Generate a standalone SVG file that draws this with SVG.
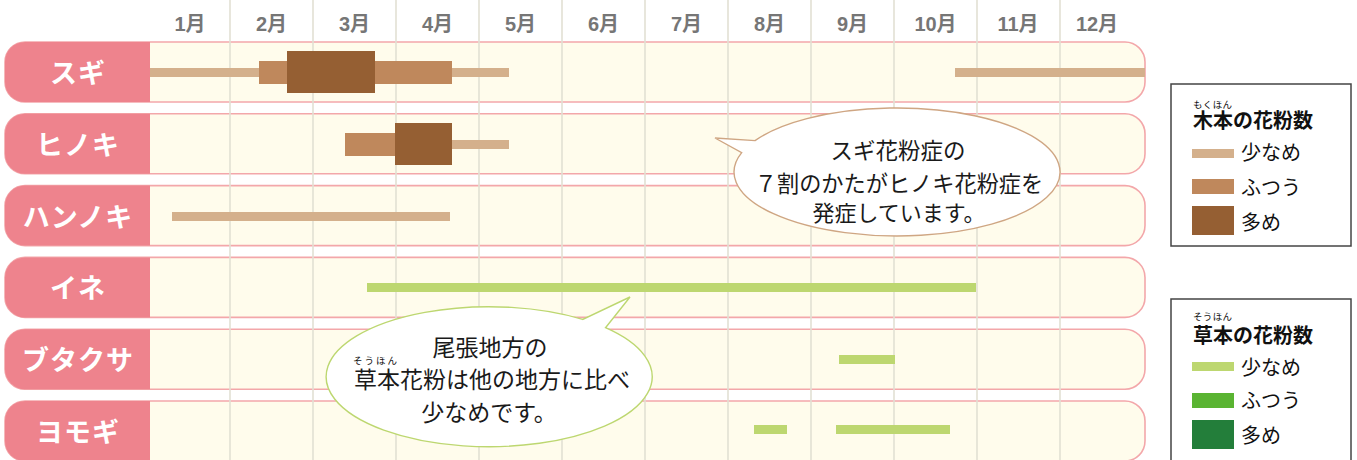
<svg xmlns="http://www.w3.org/2000/svg" width="1357" height="460" viewBox="0 0 1357 460">
<style>
.rowbg{fill:#FFFCEC;stroke:#F3A7AA;stroke-width:1.6}
.lab{fill:#EE838D}
.labt{font-family:"Noto Sans CJK JP",sans-serif;font-weight:bold;font-size:27px;fill:#fff;text-anchor:middle;letter-spacing:1px}
.mon{font-family:"Liberation Sans","Noto Sans CJK JP",sans-serif;font-weight:bold;font-size:20px;fill:#767676;text-anchor:middle}
.grid line{stroke:#E2E0D4;stroke-width:1.6}
.t1{fill:#D4B08C}.t2{fill:#BF885C}.t3{fill:#955F33}
.g1{fill:#BDD770}.g2{fill:#5AB432}.g3{fill:#237E3A}
.bub{fill:#fff;stroke-width:1.4}
.bt{font-family:"Noto Sans CJK JP",sans-serif;fill:#1a1a1a;text-anchor:middle}
.lg{fill:#fff;stroke:#444;stroke-width:1.5}
.lgt{font-family:"Noto Sans CJK JP",sans-serif;fill:#111;font-size:20px}
.ruby{font-family:"Noto Sans CJK JP",sans-serif;fill:#111;font-size:9.5px}
</style>
<rect width="1357" height="460" fill="#fff"/>
<g id="month-header">
<text class="mon" x="190" y="31">1月</text>
<text class="mon" x="271.5" y="31">2月</text>
<text class="mon" x="354.5" y="31">3月</text>
<text class="mon" x="437.5" y="31">4月</text>
<text class="mon" x="520.5" y="31">5月</text>
<text class="mon" x="603.5" y="31">6月</text>
<text class="mon" x="686.5" y="31">7月</text>
<text class="mon" x="769.5" y="31">8月</text>
<text class="mon" x="852.5" y="31">9月</text>
<text class="mon" x="935.5" y="31">10月</text>
<text class="mon" x="1018" y="31">11月</text>
<text class="mon" x="1097" y="31">12月</text>
</g>
<g id="row-backgrounds">
<rect class="rowbg" x="5" y="42" width="1140" height="60" rx="20"/>
<rect class="rowbg" x="5" y="113.8" width="1140" height="60" rx="20"/>
<rect class="rowbg" x="5" y="185.6" width="1140" height="60" rx="20"/>
<rect class="rowbg" x="5" y="257.4" width="1140" height="60" rx="20"/>
<rect class="rowbg" x="5" y="329.2" width="1140" height="60" rx="20"/>
<rect class="rowbg" x="5" y="401" width="1140" height="60" rx="20"/>
</g>
<g id="grid" class="grid">
<line x1="230" y1="0" x2="230" y2="460"/>
<line x1="313" y1="0" x2="313" y2="460"/>
<line x1="396" y1="0" x2="396" y2="460"/>
<line x1="479" y1="0" x2="479" y2="460"/>
<line x1="562" y1="0" x2="562" y2="460"/>
<line x1="645" y1="0" x2="645" y2="460"/>
<line x1="728" y1="0" x2="728" y2="460"/>
<line x1="811" y1="0" x2="811" y2="460"/>
<line x1="894" y1="0" x2="894" y2="460"/>
<line x1="977" y1="0" x2="977" y2="460"/>
<line x1="1060" y1="0" x2="1060" y2="460"/>
</g>
<g id="sugi">
<path class="lab" d="M150,42H25A20,20 0 0 0 5,62V82A20,20 0 0 0 25,102H150Z"/>
<text class="labt" x="78" y="83">スギ</text>
<rect class="t1" x="150" y="68" width="359" height="9"/>
<rect class="t2" x="259" y="61" width="193" height="23"/>
<rect class="t3" x="287" y="51" width="88" height="42"/>
<rect class="t1" x="955" y="68" width="190" height="9"/>
</g>
<g id="hinoki">
<path class="lab" d="M150,113.8H25A20,20 0 0 0 5,133.8V153.8A20,20 0 0 0 25,173.8H150Z"/>
<text class="labt" x="78" y="154.8">ヒノキ</text>
<rect class="t1" x="452" y="140" width="57" height="9"/>
<rect class="t2" x="345" y="133" width="50" height="23"/>
<rect class="t3" x="395" y="123" width="57" height="42"/>
</g>
<g id="hannoki">
<path class="lab" d="M150,185.6H25A20,20 0 0 0 5,205.6V225.6A20,20 0 0 0 25,245.6H150Z"/>
<text class="labt" x="78" y="226.6">ハンノキ</text>
<rect class="t1" x="172" y="212" width="278" height="9"/>
</g>
<g id="ine">
<path class="lab" d="M150,257.4H25A20,20 0 0 0 5,277.4V297.4A20,20 0 0 0 25,317.4H150Z"/>
<text class="labt" x="78" y="298.4">イネ</text>
<rect class="g1" x="367" y="283" width="609" height="9"/>
</g>
<g id="butakusa">
<path class="lab" d="M150,329.2H25A20,20 0 0 0 5,349.2V369.2A20,20 0 0 0 25,389.2H150Z"/>
<text class="labt" x="78" y="370.2">ブタクサ</text>
<rect class="g1" x="839" y="355" width="56" height="9"/>
</g>
<g id="yomogi">
<path class="lab" d="M150,401H25A20,20 0 0 0 5,421V441A20,20 0 0 0 25,461H150Z"/>
<text class="labt" x="78" y="442">ヨモギ</text>
<rect class="g1" x="754" y="425" width="33" height="9"/>
<rect class="g1" x="836" y="425" width="114" height="9"/>
</g>
<g id="bubble-sugi">
<path class="bub" stroke="#CFA683" d="M755,140.6A163,64 0 1 1 741.7,152.6L715,138Z"/>
<text class="bt" font-size="22.5" x="898" y="159">スギ花粉症の</text>
<text class="bt" font-size="22.2" x="899" y="192">７割のかたがヒノキ花粉症を</text>
<text class="bt" font-size="22" x="899" y="221">発症しています。</text>
</g>
<g id="bubble-grass">
<path class="bub" stroke="#BDD770" d="M582.7,319.4A163,70 0 1 0 605.5,327.7L630,297Z"/>
<text class="bt" font-size="23" x="490" y="356">尾張地方の</text>
<text class="ruby" x="353" y="363.5" textLength="44">そうほん</text>
<text class="bt" font-size="23" x="492" y="388">草本花粉は他の地方に比べ</text>
<text class="bt" font-size="23" x="489" y="421">少なめです。</text>
</g>
<g id="legend-woody">
<rect class="lg" x="1171" y="84" width="180" height="162"/>
<text class="ruby" x="1193" y="107.5" textLength="39">もくほん</text>
<text class="lgt" font-weight="bold" x="1193" y="128">木本の花粉数</text>
<rect class="t1" x="1192" y="149" width="42" height="9"/>
<text class="lgt" x="1241" y="159.5">少なめ</text>
<rect class="t2" x="1192" y="179" width="42" height="15"/>
<text class="lgt" x="1241" y="194.5">ふつう</text>
<rect class="t3" x="1192" y="206" width="42" height="29"/>
<text class="lgt" x="1241" y="229.5">多め</text>
</g>
<g id="legend-herb">
<rect class="lg" x="1171" y="299" width="180" height="175"/>
<text class="ruby" x="1193" y="320" textLength="39">そうほん</text>
<text class="lgt" font-weight="bold" x="1193" y="343">草本の花粉数</text>
<rect class="g1" x="1192" y="362" width="42" height="9"/>
<text class="lgt" x="1241" y="374.5">少なめ</text>
<rect class="g2" x="1192" y="393" width="42" height="15"/>
<text class="lgt" x="1241" y="407.5">ふつう</text>
<rect class="g3" x="1192" y="420" width="42" height="29"/>
<text class="lgt" x="1241" y="442.5">多め</text>
</g>
</svg>
